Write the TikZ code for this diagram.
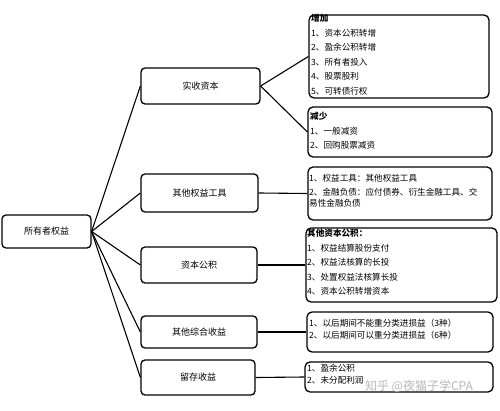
\documentclass[tikz,border=0pt]{standalone}
\usepackage{fontspec}
\setmainfont{Noto Sans CJK SC}
\usetikzlibrary{calc}
\tikzset{
  mbox/.style={draw=black, line width=1.3pt, rounded corners=4pt, minimum width=117pt, minimum height=35pt, inner sep=0pt, font=\fontsize{9}{10}\selectfont},
  rbox/.style={draw=black, line width=1.3pt, rounded corners=5pt, inner sep=0pt},
  rtxt/.style={anchor=north west, inner sep=0pt, align=left, font=\fontsize{8.6}{14.5}\selectfont},
  link/.style={draw=black, line width=1.1pt},
}
\begin{document}
\begin{tikzpicture}[x=1pt,y=-1pt]
\useasboundingbox[fill=white] (0,0) rectangle (500,411);
% root
\node[mbox, minimum width=89pt, minimum height=33pt] (root) at (46.5,231.5) {所有者权益};
% middle
\node[mbox, minimum width=119pt, minimum height=36pt] (m1) at (200.5,86) {实收资本};
\node[mbox, minimum width=117pt, minimum height=38pt] (m2) at (199.5,193) {其他权益工具};
\node[mbox, minimum width=116pt, minimum height=36pt] (m3) at (199,265) {资本公积};
\node[mbox, minimum width=116pt, minimum height=32pt] (m4) at (199,332) {其他综合收益};
\node[mbox, minimum width=114pt, minimum height=35pt] (m5) at (198,377.5) {留存收益};
% right boxes
\node[rbox, minimum width=180pt, minimum height=83pt] (r1) at (399,56.5) {};
\node[rbox, minimum width=184pt, minimum height=50pt] (r2) at (400,132) {};
\node[rbox, minimum width=184pt, minimum height=53pt] (r3) at (400,193.5) {};
\node[rbox, minimum width=191pt, minimum height=74pt] (r4) at (401.5,265) {};
\node[rbox, minimum width=186pt, minimum height=40pt] (r5) at (400,332) {};
\node[rbox, minimum width=188pt, minimum height=30pt] (r6) at (399,377) {};
% texts
\node[rtxt] (t1) at (311,14) {\textbf{增加}\\1、资本公积转增\\2、盈余公积转增\\3、所有者投入\\4、股票股利\\5、可转债行权};
\node[rtxt] (t2) at (310,112) {\textbf{减少}\\1、一般减资\\2、回购股票减资};
\node[rtxt, font=\fontsize{8.6}{10.5}\selectfont] (t3) at (309,174) {1、权益工具：其他权益工具\\[4pt]2、金融负债：应付债券、衍生金融工具、交\\易性金融负债};
\node[rtxt] (t4) at (307,229) {\textbf{其他资本公积：}\\1、权益结算股份支付\\2、权益法核算的长投\\3、处置权益法核算长投\\4、资本公积转增资本};
\node[rtxt, font=\fontsize{8.6}{12}\selectfont] (t5) at (309,319) {1、以后期间不能重分类进损益（3种）\\2、以后期间可以重分类进损益（6种）};
\node[rtxt, font=\fontsize{8.6}{12}\selectfont] (t6) at (307,364) {1、盈余公积\\2、未分配利润};
% watermark
\node[inner sep=0pt, text=gray!55, font=\fontsize{12}{12}\selectfont] (wm) at (419,386) {知乎 @夜猫子学CPA};
% connectors
\foreach \m in {m1,m2,m3,m4,m5} \draw[link] (root.east) -- (\m.west);
\draw[link] (m1.east) -- (r1.west);
\draw[link] (m1.east) -- (r2.west);
\draw[link] (m2.east) -- (r3.west);
\draw[link] (m3.east) -- (r4.west);
\draw[link] (m4.east) -- (r5.west);
\draw[link] (m5.east) -- (r6.west);
\end{tikzpicture}
\end{document}
